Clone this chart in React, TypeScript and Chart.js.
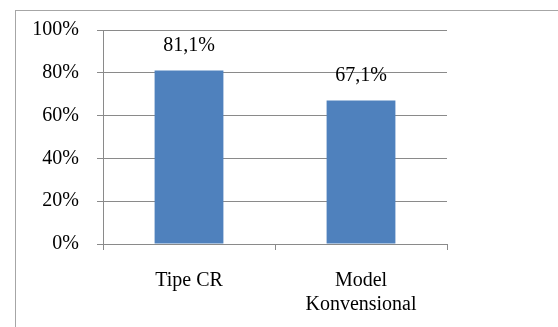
import React, { useEffect, useRef } from "react";
import { Chart, registerables } from "chart.js";

Chart.register(...registerables);

const categories: (string | string[])[] = ["Tipe CR", ["Model", "Konvensional"]];
const percentages: number[] = [81.1, 67.1];
const yTicks: number[] = [0, 20, 40, 60, 80, 100];

const BAR_COLOR = "#4F81BD";
const LINE_COLOR = "#8a8a8a";
const FONT = "'Liberation Serif', 'Times New Roman', serif";

const formatValue = (v: number) => v.toFixed(1).replace(".", ",") + "%";

// Outer frame of the chart object
const framePlugin = {
  id: "frame",
  beforeDraw(chart: any) {
    const { ctx } = chart;
    ctx.save();
    ctx.fillStyle = "#ffffff";
    ctx.fillRect(0, 0, chart.width, chart.height);
    ctx.strokeStyle = "#a6a6a6";
    ctx.lineWidth = 1;
    ctx.strokeRect(15.5, 10.5, chart.width + 40, chart.height + 40);
    ctx.restore();
  },
};

// Value labels above each bar
const valueLabelPlugin = {
  id: "valueLabels",
  afterDatasetsDraw(chart: any) {
    const { ctx } = chart;
    const meta = chart.getDatasetMeta(0);
    const data = chart.data.datasets[0].data as number[];
    ctx.save();
    ctx.font = `20px ${FONT}`;
    ctx.fillStyle = "#000000";
    ctx.textAlign = "center";
    ctx.textBaseline = "middle";
    meta.data.forEach((bar: any, i: number) => {
      ctx.fillText(formatValue(data[i]), bar.x, bar.y - 25);
    });
    ctx.restore();
  },
};

export default function App() {
  const canvasRef = useRef<HTMLCanvasElement | null>(null);

  useEffect(() => {
    const canvas = canvasRef.current;
    if (!canvas) return;
    const chart = new Chart(canvas, {
      type: "bar",
      data: {
        labels: categories,
        datasets: [
          {
            data: percentages,
            backgroundColor: BAR_COLOR,
            borderWidth: 0,
            categoryPercentage: 1,
            barPercentage: 0.4,
          },
        ],
      },
      options: {
        responsive: false,
        animation: false,
        layout: { padding: { left: 0, top: 26, right: 111, bottom: 0 } },
        plugins: {
          legend: { display: false },
          tooltip: { enabled: false },
        },
        scales: {
          x: {
            offset: true,
            afterFit: (scale: any) => {
              scale.height = 83;
            },
            grid: {
              offset: true,
              drawOnChartArea: false,
              drawTicks: true,
              tickLength: 6,
              color: LINE_COLOR,
            },
            border: { display: true, color: LINE_COLOR },
            ticks: {
              color: "#000000",
              font: { family: FONT, size: 20, lineHeight: 1.2 },
              padding: 19,
              maxRotation: 0,
              autoSkip: false,
            },
          },
          y: {
            min: 0,
            max: 100,
            afterFit: (scale: any) => {
              scale.width = 103;
            },
            afterBuildTicks: (scale: any) => {
              scale.ticks = yTicks.map((v) => ({ value: v }));
            },
            grid: {
              drawTicks: true,
              tickLength: 6,
              color: LINE_COLOR,
            },
            border: { display: true, color: LINE_COLOR },
            ticks: {
              color: "#000000",
              font: { family: FONT, size: 20 },
              padding: 18,
              callback: (v: any) => `${v}%`,
            },
          },
        },
      },
      plugins: [framePlugin, valueLabelPlugin],
    });
    return () => chart.destroy();
  }, []);

  return (
    <div style={{ position: "fixed", left: 0, top: 0, width: 558, height: 327, background: "#fff" }}>
      <canvas ref={canvasRef} width={558} height={327} style={{ display: "block" }} />
    </div>
  );
}
